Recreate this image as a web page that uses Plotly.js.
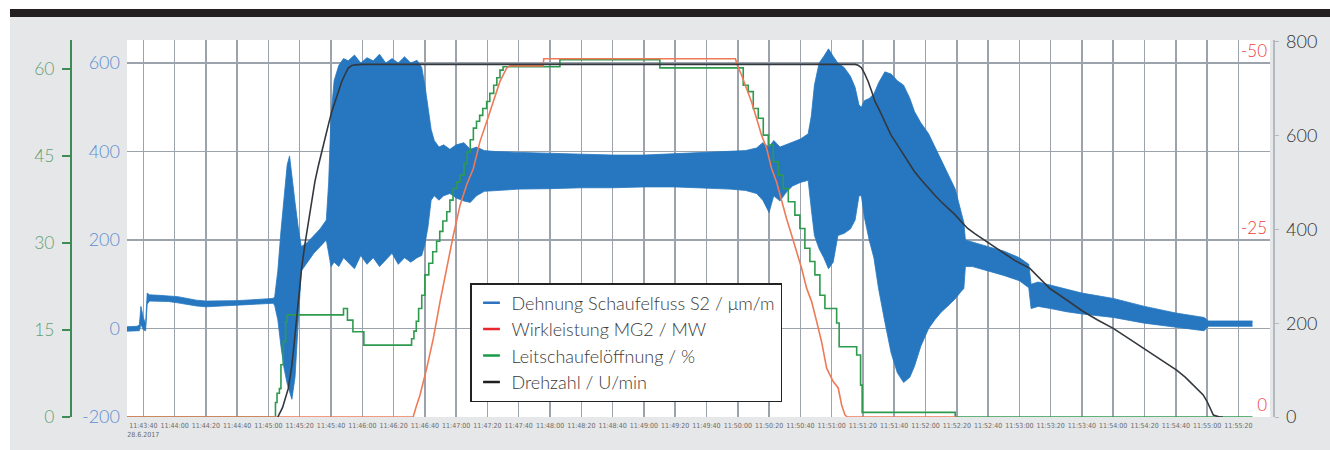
<!DOCTYPE html>
<html><head><meta charset="utf-8">
<script src="https://cdn.plot.ly/plotly-3.0.1.min.js"></script>
<style>
html,body{margin:0;padding:0;background:#fff;}
#wrap{position:relative;width:1330px;height:450px;overflow:hidden;}
#bar{position:absolute;left:10px;top:9px;width:1320px;height:8px;background:#231f20;}
#panel{position:absolute;left:10px;top:17px;width:1320px;height:433px;background:#e6e7e9;}
#chart{position:absolute;left:0;top:0;width:1330px;height:450px;}
</style></head><body>
<div id="wrap"><div id="bar"></div><div id="panel"></div><div id="chart"></div></div>
<script>
// time in seconds after 11:43:40 (28.6.2017)
const tickSeconds = [0,20,40,60,80,100,120,140,160,180,200,220,240,260,280,300,320,340,360,380,400,420,440,460,480,500,520,540,560,580,600,620,640,660,680,700];
const tickLabels = ["11:43:40<br>28.6.2017","11:44:00","11:44:20","11:44:40","11:45:00","11:45:20","11:45:40","11:46:00","11:46:20","11:46:40","11:47:00","11:47:20","11:47:40","11:48:00","11:48:20","11:48:40","11:49:00","11:49:20","11:49:40","11:50:00","11:50:20","11:50:40","11:51:00","11:51:20","11:51:40","11:52:00","11:52:20","11:52:40","11:53:00","11:53:20","11:53:40","11:54:00","11:54:20","11:54:40","11:55:00","11:55:20"];

const seriesNames = ["Dehnung Schaufelfuss S2 / μm/m","Wirkleistung MG2 / MW","Leitschaufelöffnung / %","Drehzahl / U/min"];

// Dehnung Schaufelfuss S2 (μm/m): oscillation envelope (upper / lower)
const strainT  = [-10.4,-4,-2.5,-1.5,0,1.5,2.5,4,10,16,22,28,34,40,50,60,70,80,83,84,86,88,90,92,93.5,95,97,99,101,105,109,113,117,118.5,120,122,125,128,131,135,139,143,147,151,155,159,163,167,171,175,178,180,182,184,186,189,192,196,200,205,209,213,218,225,240,260,280,300,320,340,360,375,385,392,396,400,403,407,411,415,420,425,427,429,432,435,438,441,444,448,452,455,457.5,459,461,464,467,470,474,478,482,486,490,493,497,502,506,510,514,519,523,524.5,525.5,530,540,550,560,566,567.5,572,580,590,600,620,640,660,678,681,709];
const strainHi = [4,5,8,50,25,10,80,76,75,74,72,68,64,62,62,63,65,68,68,72,130,220,300,370,390,340,285,230,185,195,210,225,245,330,480,560,595,610,605,618,600,612,605,620,600,610,600,614,600,606,590,550,500,450,425,410,415,405,415,420,405,410,402,400,398,396,394,392,392,395,398,400,402,408,420,410,425,410,415,420,428,440,480,550,600,615,632,615,600,590,570,545,505,500,515,520,530,555,580,575,560,550,520,490,465,440,410,380,350,315,260,240,200,195,185,175,160,145,100,105,98,88,80,68,50,35,25,17,17];
const strainLo = [-6,-6,-5,10,-3,-5,55,62,61,61,58,54,51,49,51,53,55,57,57,52,20,-40,-90,-125,-145,-160,-110,10,130,150,170,185,200,170,140,150,140,160,150,135,165,145,160,140,155,170,145,160,150,160,165,190,230,290,300,290,300,305,295,288,285,300,310,312,315,316,318,318,320,320,318,315,312,305,290,262,300,288,308,322,330,335,270,210,180,160,135,150,210,215,225,245,300,300,250,200,160,90,15,-55,-100,-122,-110,-85,-40,0,20,37,50,67,85,90,140,140,130,120,108,92,45,50,45,38,33,25,12,3,-5,5,5];

// Wirkleistung MG2 (MW)
const powerT = [-10.4,172.5,174.5,176.9,181.2,185.4,189.7,193.9,198.2,202.5,206.7,211,215.2,219.5,223.8,228,232.3,234.4,255.5,256,378.5,380,382.4,385.6,388.8,392,395.2,398.4,401.6,404.8,408,411.2,414.4,417.6,420.8,424,427.2,430.4,433.6,436.8,441,444.2,446.4,448.5,450,520];
const powerV = [0,0,-1.5,-3.1,-6.9,-11.1,-16.3,-21,-25.7,-29.9,-32.8,-35.1,-38.9,-41.7,-44.5,-47.4,-49.3,-49.6,-49.6,-50.6,-50.6,-49.5,-48.3,-46.4,-44.5,-42.2,-39.8,-38,-35.1,-33.2,-30.4,-28,-25.7,-23.3,-21,-18.2,-16.3,-13.5,-10.6,-6.9,-5,-4.1,-1.7,-0.3,0,0];

// Leitschaufelöffnung (%)
const guideT = [-10.4,84.5,85.5,87,88,89.5,91,92,128,130.5,134,141,171.5,173,174.5,176,178,180,182.5,185,187.5,189.5,191.5,194,196,198,200.5,202.5,205,207,209,211,213,215,217,219.5,221.5,224,226,228,230,266.3,330.2,383.5,386.7,389.9,393.1,396.3,399.5,402.7,405.9,409.1,412.3,416.5,419.7,422.9,426.1,429.3,432.5,435.7,443.2,444.8,456,458.5,459.5,519,709];
const guideV = [0,2.5,4.1,4.9,9,13,16.4,17.6,18.7,16.7,14.7,12.4,13.5,14.8,16.5,18.7,21,24.5,26.5,28.5,30.3,32,33.8,35.4,37.4,39.4,40.5,41.7,43.7,45.7,47.8,49.8,51,52,53.2,54.4,55.8,57.2,58.5,59.8,60.4,61.6,60.2,57.2,56.1,53.2,51.5,48.6,46.9,44,41.7,39.4,37.1,34.8,32.5,29.1,26.8,24.5,21,18.7,16.2,12.1,10.7,5.5,0.8,0,0];

// Drehzahl (U/min)
const speedT = [86,89,92.7,95,97,99,101.2,103.4,105.5,107.6,109.7,112,114,116,118.3,120.4,122.5,124.7,126.8,129,131,133,135.3,140,455,457,459,461,463.4,465.5,467.7,470,472,475,478,481.5,484.8,489,493,497.5,501.8,506,510,514.5,519,523,527,531.5,536,541,546.5,552,557,566.7,573,579.5,590,600.8,610,620,630,641,650,660.5,666,671,675,677.5,680,681.7,684,688,690];
const speedV = [0,20,61,110,175,245,317,370,417,462,502,537,566,595,623,650,673,695,715,731,744,749,751,752,752,750,745,733,715,695,673,658,644,622,601,583,566,545,523,505,488,473,459,445,431,416,402,391,381,368,356,345,334,317,296,274,250,225,207,189,167,143,122,100,85,68,56,47,33,19,4,0,0];

const strainTicks = [-200,0,200,400,600];
const strainTickText = ["-200","0","200","400","600"];
const guideTicks = [0,15,30,45,60];
const powerTicks = [0,-25,-50];
const powerTickText = ["0","-25","-50"];
const speedTicks = [0,200,400,600,800];

const W = 1330, H = 450;
const plotL = 127, plotR = 1270, plotT = 40, plotB = 417;
const BLUE = '#2677c0', RED = '#ef7a57', GREEN = '#2e9a4e', BLACK = '#33383e';
const FONT = 'Lato, "Open Sans", sans-serif';
const NARROW = '"Liberation Sans Narrow", "DejaVu Sans Condensed", Roboto, sans-serif';

const traces = [
  {x: strainT, y: strainLo, type: 'scatter', mode: 'lines', line: {color: BLUE, width: 0.8}, yaxis: 'y', showlegend: false, hoverinfo: 'skip'},
  {x: strainT, y: strainHi, type: 'scatter', mode: 'lines', line: {color: BLUE, width: 0.8}, fill: 'tonexty', fillcolor: BLUE, yaxis: 'y', showlegend: false, hoverinfo: 'skip'},
  {x: powerT, y: powerV, type: 'scatter', mode: 'lines', line: {color: RED, width: 1.6}, yaxis: 'y3', showlegend: false},
  {x: guideT, y: guideV, type: 'scatter', mode: 'lines', line: {color: GREEN, width: 1.6, shape: 'hv'}, yaxis: 'y2', showlegend: false},
  {x: speedT, y: speedV, type: 'scatter', mode: 'lines', line: {color: BLACK, width: 1.6}, yaxis: 'y4', showlegend: false},
];
const legendColors = ['#2f72c0', '#e8262b', '#179a48', '#1e1e1e'];
seriesNames.forEach((n, i) => {
  traces.push({x: [null], y: [null], type: 'scatter', mode: 'markers', name: n,
    marker: {symbol: 'line-ew', size: 12, color: legendColors[i], line: {color: legendColors[i], width: 2.5}},
    yaxis: 'y', showlegend: true});
});

const layout = {
  width: W, height: H,
  margin: {l: 0, r: 0, t: 0, b: 0, autoexpand: false},
  paper_bgcolor: 'rgba(0,0,0,0)', plot_bgcolor: '#ffffff',
  font: {family: FONT},
  showlegend: true,
  legend: {x: 470 / W, y: 1 - 283 / H, xanchor: 'left', yanchor: 'top', bgcolor: '#ffffff', traceorder: 'normal',
    bordercolor: '#222', borderwidth: 1.5, font: {family: FONT, size: 18, color: '#3a3a3a', weight: 300}, itemwidth: 30},
  xaxis: {domain: [plotL / W, plotR / W], range: [-10.4, 720.2], tickmode: 'array', tickvals: tickSeconds, ticktext: tickLabels,
    tickangle: 0, showgrid: true, gridcolor: '#9ca3ad', gridwidth: 1.5, zeroline: false, showline: false, ticks: '',
    tickfont: {family: NARROW, size: 7, color: '#6b6b6b'}, ticklabelstandoff: 3, fixedrange: true},
  yaxis: {domain: [1 - plotB / H, 1 - plotT / H], range: [-200, 652], tickmode: 'array', tickvals: strainTicks, ticktext: strainTickText,
    anchor: 'x', side: 'left', showgrid: true, gridcolor: '#9ca3ad', gridwidth: 1.5, zeroline: false, showline: false, ticks: '',
    tickfont: {family: FONT, size: 18, color: '#5b8fd0', weight: 300}, ticklabelstandoff: 6},
  yaxis2: {overlaying: 'y', anchor: 'free', position: 71 / W, side: 'left', range: [0, 65], tickmode: 'array', tickvals: guideTicks,
    showgrid: false, zeroline: false, showline: true, linecolor: '#3d8b55', linewidth: 2, ticks: 'outside', ticklen: 8, tickwidth: 2,
    tickcolor: '#3d8b55', tickfont: {family: FONT, size: 17.5, color: '#62a172', weight: 300}, ticklabelstandoff: 4},
  yaxis3: {overlaying: 'y', anchor: 'x', side: 'right', range: [0, -53.25], tickmode: 'array', tickvals: powerTicks, ticktext: powerTickText,
    ticklabelposition: 'inside top', showgrid: false, zeroline: false, showline: false, ticks: '',
    tickfont: {family: FONT, size: 17, color: '#ee3b3b', weight: 300}},
  yaxis4: {overlaying: 'y', anchor: 'free', position: 1273 / W, side: 'right', range: [0, 804], tickmode: 'array', tickvals: speedTicks,
    showgrid: false, zeroline: false, showline: true, linecolor: '#b4bac2', linewidth: 1.5, ticks: 'outside', ticklen: 4,
    tickcolor: '#b4bac2', tickfont: {family: FONT, size: 18, color: '#333', weight: 300}, ticklabelstandoff: 4}
};

Plotly.newPlot('chart', traces, layout, {staticPlot: true, displayModeBar: false});
</script>
</body></html>
